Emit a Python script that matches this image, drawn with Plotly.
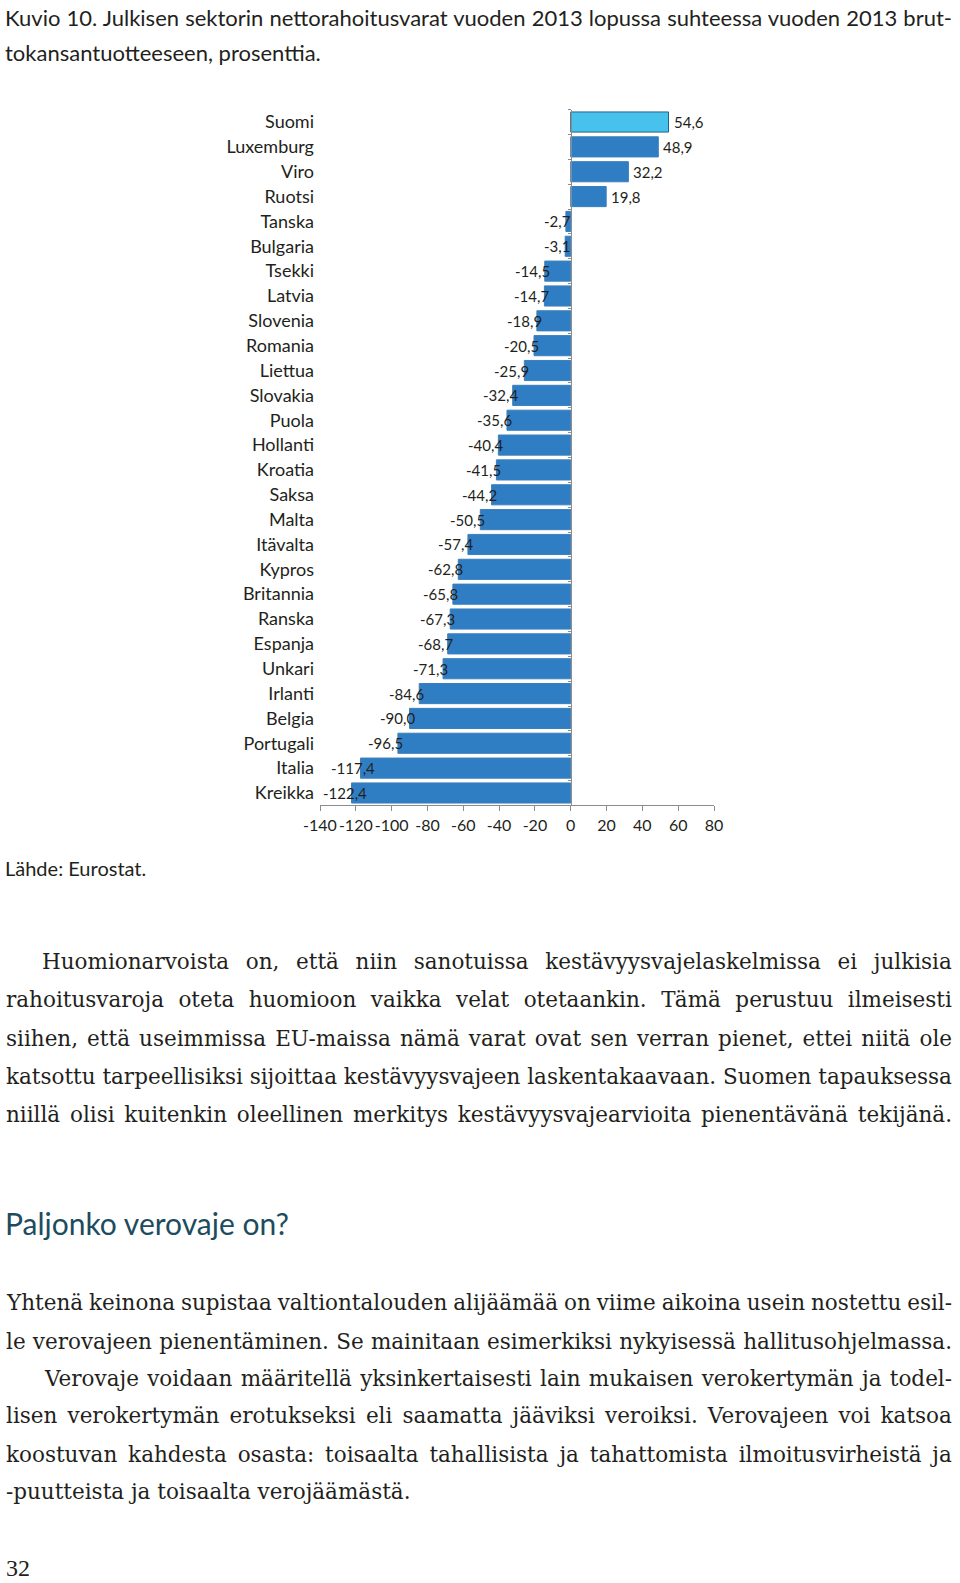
import plotly.graph_objects as go

# ---------------- data ----------------
countries = ["Suomi", "Luxemburg", "Viro", "Ruotsi", "Tanska", "Bulgaria", "Tsekki",
             "Latvia", "Slovenia", "Romania", "Liettua", "Slovakia", "Puola",
             "Hollanti", "Kroatia", "Saksa", "Malta", "Itävalta", "Kypros",
             "Britannia", "Ranska", "Espanja", "Unkari", "Irlanti", "Belgia",
             "Portugali", "Italia", "Kreikka"]
values = [54.6, 48.9, 32.2, 19.8, -2.7, -3.1, -14.5, -14.7, -18.9, -20.5, -25.9,
          -32.4, -35.6, -40.4, -41.5, -44.2, -50.5, -57.4, -62.8, -65.8, -67.3,
          -68.7, -71.3, -84.6, -90.0, -96.5, -117.4, -122.4]
highlight = "Suomi"
x_ticks = [-140, -120, -100, -80, -60, -40, -20, 0, 20, 40, 60, 80]
x_tick_labels = ["-140", "-120", "-100", "-80", "-60", "-40", "-20", "0", "20", "40", "60", "80"]

title_lines = [
    "Kuvio 10. Julkisen sektorin nettorahoitusvarat vuoden 2013 lopussa suhteessa vuoden 2013 brut-",
    "tokansantuotteeseen, prosenttia.",
]
source_text = "Lähde: Eurostat."
para1_lines = [
    "Huomionarvoista on, että niin sanotuissa kestävyysvajelaskelmissa ei julkisia",
    "rahoitusvaroja oteta huomioon vaikka velat otetaankin. Tämä perustuu ilmeisesti",
    "siihen, että useimmissa EU-maissa nämä varat ovat sen verran pienet, ettei niitä ole",
    "katsottu tarpeellisiksi sijoittaa kestävyysvajeen laskentakaavaan. Suomen tapauksessa",
    "niillä olisi kuitenkin oleellinen merkitys kestävyysvajearvioita pienentävänä tekijänä.",
]
heading_text = "Paljonko verovaje on?"
para2_lines = [
    "Yhtenä keinona supistaa valtiontalouden alijäämää on viime aikoina usein nostettu esil-",
    "le verovajeen pienentäminen. Se mainitaan esimerkiksi nykyisessä hallitusohjelmassa.",
    "Verovaje voidaan määritellä yksinkertaisesti lain mukaisen verokertymän ja todel-",
    "lisen verokertymän erotukseksi eli saamatta jääviksi veroiksi. Verovajeen voi katsoa",
    "koostuvan kahdesta osasta: toisaalta tahallisista ja tahattomista ilmoitusvirheistä ja",
    "-puutteista ja toisaalta verojäämästä.",
]
page_number = "32"

# ---------------- page geometry ----------------
W, H = 960, 1583
def px(x):
    return x / W
def py(y):
    return 1 - y / H

TXT = "#231f20"
SANS = "Lato"
SERIF = "DejaVu Serif"
GRAY = "#8c8c8c"
LIGHT = "#47c2ec"
DARK = "#2f7ec4"

x_dom = [px(320), px(714)]
y_dom = [py(805.4), py(109.6)]
xmin, xmax = x_ticks[0], x_ticks[-1]
zero_pos = x_dom[0] + (0 - xmin) / (xmax - xmin) * (x_dom[1] - x_dom[0])
n = len(countries)
yrange = [n - 0.5, -0.5]

bar_colors = [LIGHT if c == highlight else DARK for c in countries]
line_colors = ["#2b5f86" if c == highlight else "#3b7fbd" for c in countries]

fig = go.Figure()
fig.add_trace(go.Bar(
    x=values, y=countries, orientation="h",
    marker=dict(color=bar_colors, line=dict(color=line_colors, width=1)),
    hoverinfo="skip", showlegend=False,
))
# helper trace carrying the zero axis with boundary ticks
fig.add_trace(go.Scatter(
    x=values, y=countries, yaxis="y2", mode="markers",
    marker=dict(opacity=0), hoverinfo="skip", showlegend=False,
))

annotations = []
for c, v in zip(countries, values):
    label = f"{v:.1f}".replace(".", ",")
    if v > 0:
        anchor, shift = "left", 3
    else:
        # labels near the left end are pulled inward so they stay clear of the category names
        anchor, shift = "right", (7 if v > -110 else 17)
    annotations.append(dict(
        x=v, y=c, xref="x", yref="y", text=label, showarrow=False,
        xanchor=anchor, xshift=shift,
        yanchor="middle", font=dict(family=SANS, size=15, color=TXT),
    ))

def text_line(text, x, y, family, size, color=TXT, justify_to=None):
    d = dict(x=px(x), y=py(y), xref="paper", yref="paper", text=text,
             showarrow=False, xanchor="left", yanchor="middle", align="left",
             borderpad=0, borderwidth=0,
             font=dict(family=family, size=size, color=color))
    if justify_to is not None:
        d["name"] = "justify:%g" % justify_to
    return d

RIGHT = 952
BODY = 21.5
# title
annotations.append(text_line(title_lines[0], 5, 18, SANS, 22, justify_to=RIGHT))
annotations.append(text_line(title_lines[1], 5, 53, SANS, 22))
# source
annotations.append(text_line(source_text, 5, 868, SANS, 20))
# paragraph 1
p1_y = [961, 999, 1038, 1076, 1114]
for i, (t, y) in enumerate(zip(para1_lines, p1_y)):
    x0 = 42 if i == 0 else 6
    annotations.append(text_line(t, x0, y, SERIF, BODY, justify_to=RIGHT))
# heading
annotations.append(text_line(heading_text, 5, 1223, SANS, 30, color="#1c4c5e"))
# paragraph 2
p2_y = [1302, 1341, 1378, 1415, 1454, 1491]
for i, (t, y) in enumerate(zip(para2_lines, p2_y)):
    x0 = 44 if i == 2 else 6
    last = i == len(para2_lines) - 1
    annotations.append(text_line(t, x0, y, SERIF, BODY, justify_to=None if last else RIGHT))
# page number
annotations.append(text_line(page_number, 6, 1568, "Liberation Serif", 24))

fig.update_layout(
    template="none",
    width=W, height=H, autosize=False,
    margin=dict(l=0, r=0, t=0, b=0, pad=0, autoexpand=False),
    paper_bgcolor="white", plot_bgcolor="rgba(0,0,0,0)",
    bargap=0.19, showlegend=False,
    xaxis=dict(domain=x_dom, range=[xmin, xmax], tickmode="array",
               tickvals=x_ticks, ticktext=x_tick_labels, tickangle=0,
               ticks="outside", ticklen=5, tickcolor=GRAY, tickwidth=1,
               showline=True, linecolor=GRAY, linewidth=1, automargin=False,
               showgrid=False, zeroline=False, anchor="y",
               tickfont=dict(family=SANS, size=16, color=TXT), fixedrange=True),
    yaxis=dict(domain=y_dom, type="category", categoryorder="array",
               categoryarray=countries, range=yrange, automargin=False,
               showline=False, ticks="", showgrid=False, zeroline=False,
               ticklabelstandoff=5,
               tickfont=dict(family=SANS, size=18, color=TXT), fixedrange=True),
    yaxis2=dict(overlaying="y", anchor="free", position=zero_pos, side="left",
                type="category", categoryorder="array", categoryarray=countries,
                range=yrange, showline=True, linecolor=GRAY, linewidth=1,
                ticks="outside", ticklen=3, tickcolor=GRAY, tickson="boundaries",
                automargin=False,
                showticklabels=False, showgrid=False, zeroline=False, fixedrange=True),
    annotations=annotations,
)

post = """
document.documentElement.style.margin = '0';
document.body.style.margin = '0';
document.body.style.overflow = 'hidden';
var gd = document.getElementById('{plot_id}');
try {
  var inAnns = (gd.layout && gd.layout.annotations) || [];
  var gr = gd.getBoundingClientRect();
  gd.querySelectorAll('g.annotation').forEach(function(g){
    var i = +g.getAttribute('data-index');
    var a = inAnns[i];
    if(!a || !a.name || a.name.indexOf('justify:') !== 0) return;
    var target = parseFloat(a.name.slice(8));
    var t = g.querySelector('text');
    if(!t) return;
    var n = (t.textContent.match(/ /g) || []).length;
    if(!n) return;
    t.style.wordSpacing = '0px';
    var r = t.getBoundingClientRect();
    var right = r.right - gr.left;
    t.style.wordSpacing = ((target - right) / n) + 'px';
  });
} catch(e) {}
"""

fig.write_html("out.html", post_script=post, config={"displayModeBar": False})
